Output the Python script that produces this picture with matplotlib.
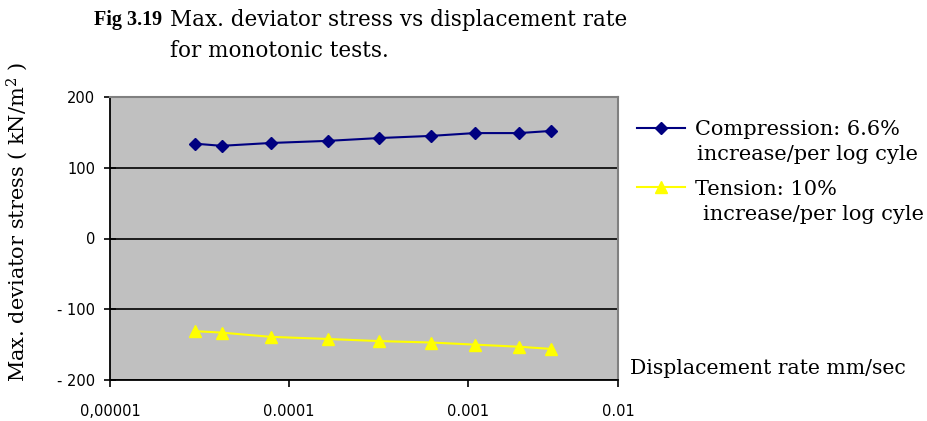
import matplotlib.pyplot as plt

# displacement rate (mm/sec) and max deviator stress (kN/m2)
comp_rate = [3.0e-5, 4.2e-5, 7.9e-5, 1.65e-4, 3.2e-4, 6.2e-4, 1.09e-3, 1.93e-3, 2.9e-3]
comp_stress = [134, 131, 135, 138, 142, 145, 149, 149, 152]

tens_rate = [3.0e-5, 4.2e-5, 7.9e-5, 1.65e-4, 3.2e-4, 6.2e-4, 1.09e-3, 1.93e-3, 2.9e-3]
tens_stress = [-131, -133, -139, -142, -145, -147, -150, -153, -156]

x_ticks = [1e-5, 1e-4, 1e-3, 0.0069]
x_ticklabels = ['0,00001', '0.0001', '0.001', '0.01']
y_ticks = [-200, -100, 0, 100, 200]

serif = 'DejaVu Serif'
plt.rcParams['mathtext.fontset'] = 'dejavuserif'

fig = plt.figure(figsize=(9.27, 4.21), dpi=100)
ax = fig.add_axes([110 / 927, 41 / 421, 508 / 927, 283 / 421])
ax.set_facecolor('#c0c0c0')

ax.plot(comp_rate, comp_stress, color='#000080', marker='D', markersize=6,
        linewidth=1.5, label='Compression: 6.6%')
ax.plot(tens_rate, tens_stress, color='#ffff00', marker='^', markersize=8,
        linewidth=1.5, label='Tension: 10%')

ax.set_xscale('log')
ax.set_xlim(1e-5, 0.0069)
ax.set_ylim(-200, 200)
ax.set_xticks(x_ticks)
ax.set_xticklabels(x_ticklabels)
ax.minorticks_off()
ax.set_yticks(y_ticks)
ax.set_yticklabels(['- 200', '- 100', '0', '100', '200'])
ax.yaxis.grid(True, color='black', linewidth=1.2)
ax.set_axisbelow(True)
ax.tick_params(axis='y', direction='inout', length=9, width=1.2, labelsize=10.5, pad=6)
ax.tick_params(axis='x', direction='out', length=5, width=1.2, labelsize=10.5, pad=12)

for side in ['left', 'bottom']:
    ax.spines[side].set_color('black')
    ax.spines[side].set_linewidth(1.3)
for side in ['top', 'right']:
    ax.spines[side].set_color('#808080')
    ax.spines[side].set_linewidth(1.5)

fig.text(17 / 927, 1 - 222 / 421, 'Max. deviator stress ( kN/m$^2$ )', fontfamily=serif,
         fontsize=15, rotation=90, ha='center', va='center')

fig.text(94 / 927, 1 - 20 / 421, 'Fig 3.19', fontfamily='Liberation Serif', fontweight='bold',
         fontsize=14.5, va='center')
fig.text(170 / 927, 1 - 20 / 421, 'Max. deviator stress vs displacement rate',
         fontfamily=serif, fontsize=15.5, va='center')
fig.text(170 / 927, 1 - 51 / 421, 'for monotonic tests.',
         fontfamily=serif, fontsize=15.5, va='center')
fig.text(630 / 927, 1 - 369 / 421, 'Displacement rate mm/sec',
         fontfamily=serif, fontsize=14.7, va='center')

ax.legend(loc='upper left', bbox_to_anchor=(637 / 927, 1 - 120 / 421),
          bbox_transform=fig.transFigure, frameon=False,
          prop={'family': serif, 'size': 15}, handlelength=2.3,
          handletextpad=0.5, labelspacing=1.95, borderpad=0, borderaxespad=0)
fig.text(697 / 927, 1 - 155 / 421, 'increase/per log cyle',
         fontfamily=serif, fontsize=15, va='center')
fig.text(703 / 927, 1 - 214 / 421, 'increase/per log cyle',
         fontfamily=serif, fontsize=15, va='center')

fig.savefig('out.png', dpi=100)
